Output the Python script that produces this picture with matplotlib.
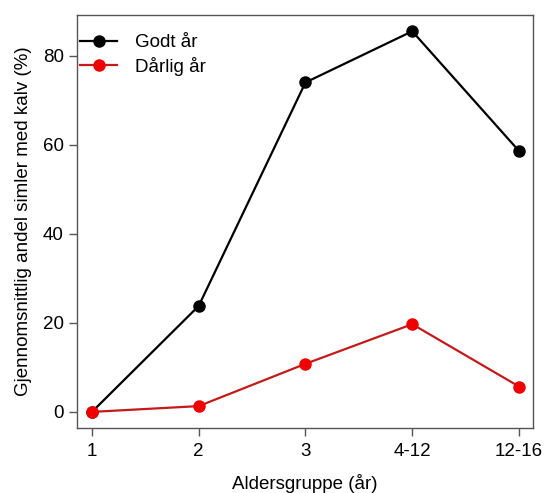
import matplotlib
matplotlib.use('Agg')
import matplotlib.pyplot as plt

plt.rcParams['font.family'] = ['Liberation Sans', 'DejaVu Sans']

# Data
groups = ['1', '2', '3', '4-12', '12-16']
godt = [0, 23.8, 74.0, 85.5, 58.6]
darlig = [0, 1.3, 10.8, 19.7, 5.7]

fig = plt.figure(figsize=(5.46, 4.93), dpi=100, facecolor='white')
ax = fig.add_axes([0.141, 0.132, 0.835, 0.838])

x = list(range(1, len(groups) + 1))
ax.plot(x, godt, color='black', lw=1.6, marker='o', ms=8,
        mfc='black', mec='black', label='Godt år', zorder=3)
ax.plot(x, darlig, color='#c41a1a', lw=1.6, marker='o', ms=8,
        mfc='#f00000', mec='#f00000', label='Dårlig år', zorder=3)

ax.set_xlim(0.86, 5.13)
ax.set_ylim(-3.6, 89.2)
ax.set_xticks(x)
ax.set_xticklabels(groups)
ax.set_yticks([0, 20, 40, 60, 80])

for s in ax.spines.values():
    s.set_color('#555555')
    s.set_linewidth(1.0)
ax.tick_params(axis='both', colors='#555555', labelcolor='black',
               labelsize=13.5, length=6, width=1.0, direction='out')
ax.tick_params(axis='x', pad=5)

ax.set_xlabel('Aldersgruppe (år)', fontsize=13.5, labelpad=10)
ax.set_ylabel('Gjennomsnittlig andel simler med kalv (%)', fontsize=13.5, labelpad=8)

ax.legend(loc='upper left', bbox_to_anchor=(0.0, 0.96), frameon=False,
          fontsize=13.5, handlelength=2.0, borderaxespad=0.0,
          handletextpad=0.95, labelspacing=0.3, borderpad=0.15)

fig.savefig('out.png', dpi=100)
